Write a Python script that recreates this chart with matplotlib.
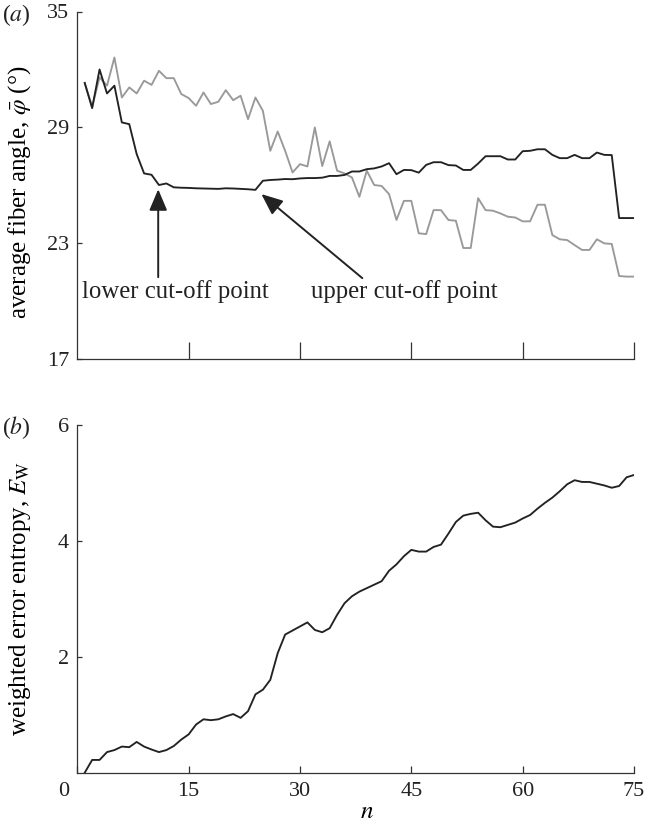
import matplotlib
matplotlib.use('Agg')
import matplotlib.pyplot as plt
from matplotlib.transforms import ScaledTranslation

plt.rcParams['font.family'] = ['Liberation Serif', 'DejaVu Serif']
plt.rcParams['mathtext.fontset'] = 'stix'

n = list(range(1, 76))

# panel (a): average fibre angle (degrees)
phi_black = [31.3, 30.0, 32.0, 30.76, 31.16, 29.26, 29.17, 27.62, 26.62, 26.55,
             26.02, 26.1, 25.9, 25.88, 25.87, 25.85, 25.84, 25.83, 25.82, 25.85,
             25.84, 25.82, 25.8, 25.77, 26.24, 26.28, 26.3, 26.33, 26.32, 26.36,
             26.38, 26.38, 26.4, 26.49, 26.49, 26.54, 26.72, 26.72, 26.84, 26.88,
             26.98, 27.15, 26.58, 26.8, 26.79, 26.66, 27.06, 27.2, 27.2, 27.05,
             27.03, 26.8, 26.8, 27.13, 27.51, 27.51, 27.51, 27.34, 27.34, 27.77,
             27.79, 27.87, 27.87, 27.58, 27.41, 27.41, 27.58, 27.41, 27.41, 27.7,
             27.58, 27.57, 24.31, 24.31, 24.31]
phi_gray = [31.3, 30.07, 31.59, 31.16, 32.62, 30.55, 31.07, 30.76, 31.42, 31.2,
            31.93, 31.55, 31.55, 30.73, 30.52, 30.12, 30.81, 30.21, 30.33, 30.93,
            30.41, 30.64, 29.43, 30.55, 29.86, 27.79, 28.79, 27.79, 26.67, 27.1,
            26.98, 29.0, 27.0, 28.28, 26.76, 26.62, 26.41, 25.41, 26.76, 26.02,
            25.97, 25.55, 24.21, 25.2, 25.2, 23.52, 23.48, 24.72, 24.72, 24.21,
            24.17, 22.76, 22.76, 25.34, 24.72, 24.69, 24.55, 24.38, 24.34, 24.14,
            24.14, 25.0, 25.0, 23.43, 23.21, 23.17, 22.91, 22.66, 22.66, 23.21,
            23.0, 22.97, 21.31, 21.28, 21.28]

# panel (b): weighted error entropy
ew = [0.0, 0.22, 0.22, 0.355, 0.39, 0.45, 0.44, 0.53, 0.45, 0.40,
      0.355, 0.39, 0.46, 0.57, 0.66, 0.83, 0.92, 0.905, 0.92, 0.97,
      1.01, 0.945, 1.06, 1.35, 1.43, 1.6, 2.06, 2.38, 2.45, 2.52,
      2.59, 2.46, 2.42, 2.49, 2.72, 2.92, 3.04, 3.12, 3.18, 3.24,
      3.30, 3.48, 3.59, 3.73, 3.84, 3.81, 3.81, 3.89, 3.93, 4.12,
      4.32, 4.43, 4.46, 4.48, 4.35, 4.24, 4.23, 4.27, 4.31, 4.38,
      4.44, 4.55, 4.65, 4.74, 4.85, 4.97, 5.04, 5.01, 5.01, 4.98,
      4.95, 4.91, 4.94, 5.09, 5.13]

x_ticks = [0, 15, 30, 45, 60, 75]
a_yticks = [17, 23, 29, 35]
b_yticks = [2, 4, 6]

W, H = 649, 825
fig = plt.figure(figsize=(W / 100, H / 100), dpi=100)
x0, x1 = 77.3, 634.0
ax1 = fig.add_axes([x0 / W, 1 - 359.3 / H, (x1 - x0) / W, (359.3 - 11.5) / H])
ax2 = fig.add_axes([x0 / W, 1 - 772.7 / H, (x1 - x0) / W, (772.7 - 424.5) / H])

dark = '#222222'
for ax in (ax1, ax2):
    for s in ('top', 'right'):
        ax.spines[s].set_visible(False)
    for s in ('left', 'bottom'):
        ax.spines[s].set_color('#333333')
        ax.spines[s].set_linewidth(0.9)
    ax.set_xlim(0, 75)
    ax.tick_params(direction='in', colors='#333333', width=0.9,
                   labelsize=16, labelcolor='#222222')
    ax.tick_params(axis='y', length=3.6, pad=6)

ax1.plot(n, phi_gray, color='#999999', lw=1.35)
ax1.plot(n, phi_black, color=dark, lw=1.35)
ax1.set_ylim(17, 35)
ax1.set_yticks(a_yticks)
ax1.set_xticks(x_ticks[1:])
ax1.tick_params(axis='x', length=12, labelbottom=False)
ax1.set_ylabel(r'average fiber angle, $\bar{\varphi}$ (°)', fontsize=18)
ax1.yaxis.set_label_coords(-0.079, 0.48)

arrow = dict(arrowstyle='-|>,head_length=1.3,head_width=0.55', color=dark, lw=1.4,
             shrinkA=0, shrinkB=0, mutation_scale=10)
ax1.annotate('', xy=(10.9, 25.8), xytext=(10.9, 21.25), arrowprops=arrow)
ax1.annotate('', xy=(24.8, 25.55), xytext=(38.4, 21.2), arrowprops=arrow)
ax1.text(13.2, 20.15, 'lower cut-off point', fontsize=17.8, ha='center', va='baseline', color=dark)
ax1.text(44.0, 20.15, 'upper cut-off point', fontsize=17.8, ha='center', va='baseline', color=dark)

ax2.plot(n, ew, color=dark, lw=1.35)
ax2.set_ylim(0, 6)
ax2.set_yticks(b_yticks)
ax2.set_xticks(x_ticks)
ax2.tick_params(axis='x', length=5, pad=7)
ax2.set_ylabel(r'weighted error entropy, $E_{\rm W}$', fontsize=18)
ax2.yaxis.set_label_coords(-0.079, 0.5)
ax2.set_xlabel(r'$n$', fontsize=18, labelpad=0, x=0.52)
lab0 = ax2.get_xticklabels()[0]
lab0.set_transform(lab0.get_transform() + ScaledTranslation(-0.14, 0, fig.dpi_scale_trans))

fig.text(2 / W, 1 - 15 / H, r'($\mathit{a}$)', fontsize=17, va='center', ha='left', color=dark)
fig.text(2 / W, 1 - 428 / H, r'($\mathit{b}$)', fontsize=17, va='center', ha='left', color=dark)

fig.savefig('out.png', dpi=100)
